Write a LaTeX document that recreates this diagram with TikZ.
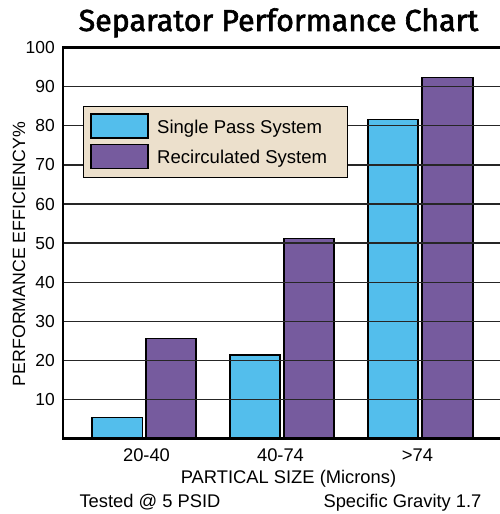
\documentclass[tikz,border=0pt]{standalone}
\usepackage{fontspec}
\setmainfont{Liberation Sans}
\newfontfamily\titlefont{Fira Sans}[FakeBold=2]

\definecolor{barblue}{RGB}{83,190,236}
\definecolor{barpurple}{RGB}{118,91,158}
\definecolor{legendbeige}{RGB}{236,224,204}

\tikzstyle{single}= [draw=black,line width=1.3pt,fill=barblue]
\tikzstyle{recirc}= [draw=black,line width=1.3pt,fill=barpurple]
\tikzstyle{gridline}= [black!85,line width=1.3pt]
\tikzstyle{axis}= [black,line width=3pt]
\tikzstyle{ticklabel}= [anchor=east,inner sep=0pt,font=\fontsize{17.5}{18}\selectfont]
\tikzstyle{xlabel}= [anchor=base,inner sep=0pt,font=\fontsize{18.4}{20}\selectfont]
\tikzstyle{leyenda}= [anchor=base west,inner sep=0pt,font=\fontsize{18.6}{20}\selectfont]

\begin{document}
\begin{tikzpicture}[x=1bp,y=-1bp]
		\useasboundingbox (0,0) rectangle (500,514);

		\node (title) at (278.5,31) [anchor=base,inner sep=0pt,font=\titlefont\fontsize{30.5}{32}\selectfont] {Separator Performance Chart};

		% bars
		\draw[single] (92,438.5) rectangle (142.5,417.3);
		\draw[recirc] (146,438.5) rectangle (196,338.3);
		\draw[single] (230,438.5) rectangle (280,355);
		\draw[recirc] (284,438.5) rectangle (334,238.7);
		\draw[single] (368,438.5) rectangle (418,119.3);
		\draw[recirc] (422,438.5) rectangle (473,77.7);

		% grid
		\draw[gridline] (63,86.7) -- (500,86.7);
		\draw[gridline] (63,125.8) -- (500,125.8);
		\draw[gridline] (63,164.9) -- (500,164.9);
		\draw[gridline] (63,204.0) -- (500,204.0);
		\draw[gridline] (63,243.1) -- (500,243.1);
		\draw[gridline] (63,282.2) -- (500,282.2);
		\draw[gridline] (63,321.3) -- (500,321.3);
		\draw[gridline] (63,360.4) -- (500,360.4);
		\draw[gridline] (63,399.5) -- (500,399.5);

		% legend
		\draw[black,line width=1pt,fill=legendbeige] (83,106) rectangle (347,177);
		\draw[single] (91,114) rectangle (148,138);
		\draw[recirc] (91,144.3) rectangle (148,168.7);
		\node (l1) at (157,133.3) [leyenda] {Single Pass System};
		\node (l2) at (157,163.3) [leyenda] {Recirculated System};

		% axes
		\draw[axis] (500,47.5) -- (63,47.5) -- (63,438.5) -- (500,438.5);

		\node (y100) at (55,47.5) [ticklabel] {100};
		\node (y90) at (55,86.7) [ticklabel] {90};
		\node (y80) at (55,125.8) [ticklabel] {80};
		\node (y70) at (55,164.9) [ticklabel] {70};
		\node (y60) at (55,204.0) [ticklabel] {60};
		\node (y50) at (55,243.1) [ticklabel] {50};
		\node (y40) at (55,282.2) [ticklabel] {40};
		\node (y30) at (55,321.3) [ticklabel] {30};
		\node (y20) at (55,360.4) [ticklabel] {20};
		\node (y10) at (55,399.5) [ticklabel] {10};

		\node (ytitle) at (19,254) [rotate=90,inner sep=0pt,font=\fontsize{17.8}{19}\selectfont] {PERFORMANCE EFFICIENCY\%};

		\node (x1) at (146.5,461.7) [xlabel] {20-40};
		\node (x2) at (280.5,461.7) [xlabel] {40-74};
		\node (x3) at (417.5,461.7) [xlabel] {>74};
		\node (xtitle) at (288.5,483.5) [xlabel] {PARTICAL SIZE (Microns)};

		\node (tested) at (150,507.7) [xlabel] {Tested @ 5 PSID};
		\node (gravity) at (402.5,507.7) [xlabel] {Specific Gravity 1.7};

	\end{tikzpicture}
\end{document}
